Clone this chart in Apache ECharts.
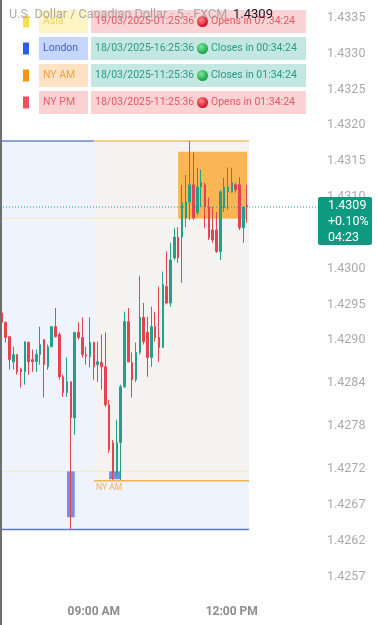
<!DOCTYPE html>
<html>
<head>
<meta charset="utf-8">
<script src="https://cdn.jsdelivr.net/npm/echarts@6/dist/echarts.min.js"></script>
<style>
  html, body { margin: 0; padding: 0; background: #fff; }
  #chart { width: 377px; height: 625px; }
</style>
</head>
<body>
<div id="chart"></div>
<script>
// 5 minute bars, USD/CAD
const times = [
  '07:00', '07:05', '07:10', '07:15', '07:20', '07:25', '07:30', '07:35', '07:40', '07:45', '07:50', '07:55',
  '08:00', '08:05', '08:10', '08:15', '08:20', '08:25', '08:30', '08:35', '08:40', '08:45', '08:50', '08:55',
  '09:00', '09:05', '09:10', '09:15', '09:20', '09:25', '09:30', '09:35', '09:40', '09:45', '09:50', '09:55',
  '10:00', '10:05', '10:10', '10:15', '10:20', '10:25', '10:30', '10:35', '10:40', '10:45', '10:50', '10:55',
  '11:00', '11:05', '11:10', '11:15', '11:20', '11:25', '11:30', '11:35', '11:40', '11:45', '11:50', '11:55',
  '12:00', '12:05', '12:10', '12:15', '12:20'
]

// [open, high, low, close]
const ohlc = [
  [1.42938, 1.42940, 1.42919, 1.42925], [1.42925, 1.42926, 1.42897, 1.42904],
  [1.42905, 1.42905, 1.42859, 1.42873], [1.42870, 1.42891, 1.42859, 1.42880],
  [1.42880, 1.42880, 1.42852, 1.42856], [1.42860, 1.42862, 1.42834, 1.42856],
  [1.42856, 1.42898, 1.42838, 1.42898], [1.42897, 1.42898, 1.42852, 1.42870],
  [1.42873, 1.42887, 1.42856, 1.42870], [1.42870, 1.42887, 1.42856, 1.42880],
  [1.42880, 1.42919, 1.42866, 1.42894], [1.42901, 1.42901, 1.42820, 1.42866],
  [1.42863, 1.42894, 1.42859, 1.42891], [1.42891, 1.42919, 1.42890, 1.42919],
  [1.42919, 1.42945, 1.42904, 1.42905], [1.42908, 1.42911, 1.42845, 1.42849],
  [1.42849, 1.42852, 1.42821, 1.42827], [1.42827, 1.42876, 1.42821, 1.42842],
  [1.42842, 1.42842, 1.42636, 1.42792], [1.42792, 1.42911, 1.42768, 1.42911],
  [1.42911, 1.42925, 1.42901, 1.42904], [1.42904, 1.42932, 1.42876, 1.42880],
  [1.42880, 1.42891, 1.42866, 1.42878], [1.42877, 1.42932, 1.42862, 1.42897],
  [1.42897, 1.42898, 1.42845, 1.42863], [1.42866, 1.42898, 1.42842, 1.42870],
  [1.42869, 1.42908, 1.42831, 1.42863], [1.42863, 1.42911, 1.42807, 1.42810],
  [1.42810, 1.42817, 1.42743, 1.42747], [1.42757, 1.42761, 1.42705, 1.42715],
  [1.42715, 1.42789, 1.42710, 1.42757], [1.42757, 1.42838, 1.42705, 1.42835],
  [1.42835, 1.42940, 1.42834, 1.42926], [1.42926, 1.42945, 1.42869, 1.42870],
  [1.42869, 1.42883, 1.42820, 1.42845], [1.42845, 1.42897, 1.42842, 1.42883],
  [1.42883, 1.42990, 1.42880, 1.42932], [1.42932, 1.42952, 1.42894, 1.42898],
  [1.42911, 1.42933, 1.42849, 1.42876], [1.42876, 1.42947, 1.42863, 1.42919],
  [1.42919, 1.42940, 1.42898, 1.42904], [1.42904, 1.42975, 1.42870, 1.42890],
  [1.42890, 1.42996, 1.42890, 1.42978], [1.42975, 1.43024, 1.42950, 1.42952],
  [1.42952, 1.43036, 1.42947, 1.43012], [1.43015, 1.43057, 1.43012, 1.43044],
  [1.43044, 1.43058, 1.43008, 1.43015], [1.43044, 1.43117, 1.42980, 1.43092],
  [1.43071, 1.43131, 1.43058, 1.43093], [1.43093, 1.43178, 1.43068, 1.43117],
  [1.43117, 1.43162, 1.43068, 1.43071], [1.43078, 1.43141, 1.43075, 1.43114],
  [1.43114, 1.43138, 1.43086, 1.43120], [1.43117, 1.43120, 1.43057, 1.43086],
  [1.43086, 1.43099, 1.43040, 1.43043], [1.43054, 1.43086, 1.43036, 1.43040],
  [1.43054, 1.43079, 1.43022, 1.43024], [1.43024, 1.43110, 1.43012, 1.43107],
  [1.43085, 1.43127, 1.43079, 1.43114], [1.43107, 1.43141, 1.43082, 1.43114],
  [1.43107, 1.43141, 1.43106, 1.43120], [1.43117, 1.43120, 1.43106, 1.43110],
  [1.43117, 1.43128, 1.43054, 1.43057], [1.43057, 1.43086, 1.43036, 1.43086],
  [1.43088, 1.43117, 1.43064, 1.43086]
]

const yTicks = [1.4335, 1.4330, 1.4325, 1.4320, 1.4315, 1.4310, 1.4305, 1.4300,
  1.4295, 1.4290, 1.4284, 1.4278, 1.4272, 1.4267, 1.4262, 1.4257]
const xTickTimes = ['09:00', '12:00']
const xTickLabels = ['09:00 AM', '12:00 PM']

// session ranges [high, low]
const londonRange = [1.43178, 1.42636]
const nyamStart = '09:00'
const nyamRange = [1.43178, 1.42704]
const asiaLevels = [1.43070, 1.42717]
const rangeBoxStart = '10:50'
const rangeBox = [1.43163, 1.43070]
// blue blocks [from, to, top, bottom]
const blocks = [
  ['08:25', '08:35', 1.42717, 1.42653],
  ['09:20', '09:35', 1.42717, 1.42706]
]

// session table
const sessionNames = ['Asia', 'London', 'NY AM', 'NY PM']
const sessionTimes = ['19/03/2025-01:25:36', '18/03/2025-16:25:36', '18/03/2025-11:25:36', '18/03/2025-11:25:36']
const sessionStatus = ['Opens in 07:34:24', 'Closes in 00:34:24', 'Closes in 01:34:24', 'Opens in 01:34:24']
const sessionIsOpen = [false, true, true, false]
const sessionColors = ['#f7df4a', '#2a5ce6', '#f6960e', '#f0505c']
const sessionBg = ['#fdf5c4', '#c7d6fc', '#fde2c3', '#fbd2d3']
const sessionText = ['#ecd460', '#4062cc', '#eca444', '#e8606c']

const changePct = '+0.10%'
const countdown = '04:23'

const UP = '#22a08a'
const DOWN = '#e4434f'
const FONT = 'Roboto, "Noto Sans", sans-serif'

const chart = echarts.init(document.getElementById('chart'), null, { renderer: 'canvas' })

const noLabel = { show: false }
// zero height areas are used as horizontal level lines
const lineStyleOf = (color, type) => ({ color: 'rgba(0,0,0,0)', borderColor: color, borderWidth: type ? 1 : 1.5, borderType: type || 'solid' })

chart.setOption({
  animation: false,
  backgroundColor: '#ffffff',
  grid: { left: 0, right: 128, top: 0, bottom: 34, containLabel: false, outerBoundsMode: 'none' },
  xAxis: {
    type: 'category',
    data: times,
    boundaryGap: true,
    axisLine: { show: false },
    axisTick: { show: false },
    splitLine: { show: false },
    axisLabel: {
      interval: (i, v) => xTickTimes.includes(v),
      formatter: (v) => xTickLabels[xTickTimes.indexOf(v)] || '',
      color: '#8d8d8d',
      fontWeight: 'bold',
      fontSize: 12,
      fontFamily: FONT,
      margin: 15,
    },
  },
  yAxis: {
    type: 'value',
    position: 'right',
    min: 1.4255,
    max: 1.43375,
    scale: true,
    axisLine: { show: false },
    axisTick: { show: false },
    splitLine: { show: false },
    axisLabel: {
      customValues: yTicks,
      formatter: (v) => v.toFixed(4),
      color: '#ababab',
      fontSize: 12.5,
      fontFamily: FONT,
      margin: 78,
    },
  },
  series: [
    {
      type: 'candlestick',
      data: ohlc.map(([o, h, l, c]) => [o, c, l, h]),
      barWidth: 2,
      itemStyle: { color: UP, color0: DOWN, borderColor: UP, borderColor0: DOWN, borderWidth: 1 },
      markArea: {
        silent: true,
        label: noLabel,
        data: [
          [{ yAxis: londonRange[0], itemStyle: { color: '#eef3fd' } }, { yAxis: londonRange[1] }],
          [{ xAxis: nyamStart, yAxis: nyamRange[0], itemStyle: { color: '#f4f3f1' } }, { yAxis: nyamRange[1] }],
          ...asiaLevels.map((v) => [{ yAxis: v, itemStyle: lineStyleOf('#f5eab9', 'dotted') }, { yAxis: v }]),
          [{ yAxis: londonRange[0], itemStyle: lineStyleOf('#6f86d4') }, { xAxis: nyamStart, yAxis: londonRange[0] }],
          [{ yAxis: londonRange[1], itemStyle: lineStyleOf('#5d79d2') }, { yAxis: londonRange[1] }],
          [{ xAxis: nyamStart, yAxis: nyamRange[0], itemStyle: lineStyleOf('#f2bf6a') }, { yAxis: nyamRange[0] }],
          [{
            xAxis: nyamStart, yAxis: nyamRange[1], itemStyle: lineStyleOf('#f0b450'),
            label: { show: true, formatter: 'NY AM', position: [3, 3], color: '#efb050', fontSize: 8.5, fontFamily: FONT },
          }, { yAxis: nyamRange[1] }],
          [{ xAxis: rangeBoxStart, yAxis: rangeBox[0], itemStyle: { color: 'rgba(251,168,50,0.82)' } },
            { xAxis: times[times.length - 1], yAxis: rangeBox[1] }],
          ...blocks.map(([a, b, top, bottom]) => [
            { xAxis: a, yAxis: top, itemStyle: { color: 'rgba(80,115,235,0.8)' } },
            { xAxis: b, yAxis: bottom },
          ]),
        ],
      },
    },
  ],
})

// overlays: session table, title and last price tag
const last = ohlc[ohlc.length - 1]
const lastClose = last[3]
const py = chart.convertToPixel({ yAxisIndex: 0 }, lastClose)

const els = [{ type: 'rect', shape: { x: 0, y: 0, width: 2, height: 625 }, style: { fill: '#6e6e6e' } }]

sessionNames.forEach((name, i) => {
  const top = 10 + i * 27
  const mid = top + 11.5
  const open = sessionIsOpen[i]
  els.push(
    { type: 'rect', shape: { x: 23, y: top + 5.5, width: 6, height: 12 }, style: { fill: sessionColors[i] } },
    { type: 'rect', shape: { x: 39, y: top, width: 49, height: 23 }, style: { fill: sessionBg[i] } },
    { type: 'text', x: 43, y: mid, style: { text: name, fill: sessionText[i], font: '10.5px ' + FONT, verticalAlign: 'middle' } },
    { type: 'rect', shape: { x: 91, y: top, width: 215, height: 23 }, style: { fill: open ? '#c4e7e1' : '#fbd3d5' } },
    { type: 'text', x: 95, y: mid, style: { text: sessionTimes[i], fill: open ? '#2a9a88' : '#e25864', font: '10.5px ' + FONT, verticalAlign: 'middle' } },
    {
      type: 'circle', shape: { cx: 202.5, cy: mid, r: 5.5 },
      style: {
        fill: new echarts.graphic.RadialGradient(0.38, 0.35, 0.7, open
          ? [{ offset: 0, color: '#7ee89a' }, { offset: 1, color: '#0f9c3c' }]
          : [{ offset: 0, color: '#ff8a8a' }, { offset: 1, color: '#d4001a' }]),
      },
    },
    { type: 'text', x: 211, y: mid, style: { text: sessionStatus[i], fill: open ? '#2a9a88' : '#e25864', font: '10.5px ' + FONT, verticalAlign: 'middle' } },
  )
})

els.push(
  { type: 'text', x: 9, y: 15, style: { text: 'U.S. Dollar / Canadian Dollar · 5 · FXCM', fill: 'rgba(150,150,150,0.8)', font: '12.6px ' + FONT, verticalAlign: 'middle' } },
  { type: 'text', x: 233, y: 15, style: { text: lastClose.toFixed(4), fill: '#131722', font: '13px ' + FONT, verticalAlign: 'middle' } },
  { type: 'line', shape: { x1: 0, y1: py, x2: 318, y2: py }, style: { stroke: '#1c9c86', lineWidth: 1, lineDash: [1, 2] } },
  { type: 'rect', shape: { x: 318, y: py - 10, width: 54, height: 48, r: 2 }, style: { fill: '#0e9a80' } },
  { type: 'text', x: 328, y: py - 1, style: { text: lastClose.toFixed(4), fill: '#ffffff', font: '12.5px ' + FONT, verticalAlign: 'middle' } },
  { type: 'text', x: 328, y: py + 15, style: { text: changePct, fill: '#ffffff', font: '12.5px ' + FONT, verticalAlign: 'middle' } },
  { type: 'text', x: 328, y: py + 31, style: { text: countdown, fill: '#ffffff', font: '12.5px ' + FONT, verticalAlign: 'middle' } },
)

chart.setOption({ graphic: { elements: els.map((e) => Object.assign({ z: 100 }, e)) } })
</script>
</body>
</html>
